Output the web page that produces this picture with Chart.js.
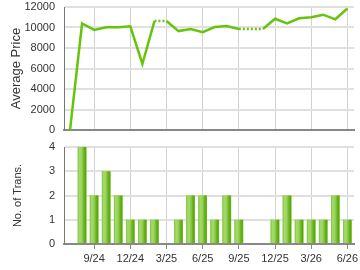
<!DOCTYPE html>
<html>
<head>
<meta charset="utf-8">
<script src="https://cdn.jsdelivr.net/npm/chart.js@4.4.1/dist/chart.umd.min.js"></script>
<style>
  html, body { margin: 0; padding: 0; background: #fff; }
  #wrap { position: relative; width: 360px; height: 270px; overflow: hidden; }
  .box { position: absolute; left: 0; width: 360px; }
  #top-box { top: 0; height: 138px; }
  #bottom-box { top: 138px; height: 132px; }
</style>
</head>
<body>
<div id="wrap">
  <div class="box" id="top-box"><canvas id="price-chart"></canvas></div>
  <div class="box" id="bottom-box"><canvas id="trans-chart"></canvas></div>
</div>
<script>
const months = [
  '7/24', '8/24', '9/24', '10/24', '11/24', '12/24',
  '1/25', '2/25', '3/25', '4/25', '5/25', '6/25',
  '7/25', '8/25', '9/25', '10/25', '11/25', '12/25',
  '1/26', '2/26', '3/26', '4/26', '5/26', '6/26',
];
const averagePrice = [
  0, 10400, 9760, 10020, 10020, 10110,
  6440, 10630, 10630, 9650, 9850, 9550,
  10050, 10150, 9850, 9850, 9850, 10850,
  10400, 10900, 11000, 11250, 10800, 11850,
];
// months with no sale: price carried over, drawn dotted
const carriedMonths = ['3/25', '10/25', '11/25'];
const transactions = [
  0, 4, 2, 3, 2, 1,
  1, 1, 0, 1, 2, 2,
  1, 2, 1, 0, 0, 1,
  2, 1, 1, 1, 2, 1,
];
const quarterLabels = ['9/24', '12/24', '3/25', '6/25', '9/25', '12/25', '3/26', '6/26'];
const priceTicks = [0, 2000, 4000, 6000, 8000, 10000, 12000];
const transTicks = [0, 1, 2, 3, 4];

const quarterIndex = quarterLabels.map((label) => months.indexOf(label));
const xMin = -0.5;
const xMax = months.length - 0.45;

Chart.defaults.font.family = 'Arial, "Liberation Sans", sans-serif';
Chart.defaults.color = '#333';

const barShade = {
  id: 'barShade',
  afterDatasetsDraw(chart) {
    const ctx = chart.ctx;
    chart.getDatasetMeta(0).data.forEach((bar) => {
      const height = bar.base - bar.y;
      if (height <= 0) return;
      const left = bar.x - bar.width / 2;
      const grad = ctx.createLinearGradient(left, 0, left + bar.width, 0);
      grad.addColorStop(0, '#7dc23c');
      grad.addColorStop(0.2, '#a6da6c');
      grad.addColorStop(0.45, '#9ad35e');
      grad.addColorStop(0.75, '#66b21a');
      grad.addColorStop(0.9, '#5aa80c');
      grad.addColorStop(1, '#78bf33');
      ctx.save();
      ctx.fillStyle = grad;
      ctx.fillRect(left, bar.y, bar.width, height);
      ctx.restore();
    });
  },
};

function noEdgePadding(scale) {
  scale.width = 64;
  scale.paddingTop = 0;
  scale.paddingBottom = 0;
}

new Chart(document.getElementById('price-chart'), {
  type: 'line',
  data: {
    datasets: [
      {
        data: averagePrice.map((value, i) => ({ x: i, y: value })),
        borderColor: '#66c40c',
        borderWidth: 2.5,
        pointRadius: 0,
        tension: 0,
        segment: {
          borderDash: (ctx) =>
            carriedMonths.includes(months[ctx.p1DataIndex]) ? [2, 2] : undefined,
        },
      },
    ],
  },
  options: {
    responsive: true,
    maintainAspectRatio: false,
    animation: false,
    layout: { padding: { top: 7, right: 6, left: 0, bottom: 8 } },
    plugins: { legend: { display: false }, tooltip: { enabled: false } },
    scales: {
      x: {
        type: 'linear',
        min: xMin,
        max: xMax,
        offset: false,
        afterBuildTicks: (scale) => {
          scale.ticks = quarterIndex.map((v) => ({ value: v }));
        },
        ticks: { display: false },
        grid: { color: '#d2d2d2', lineWidth: 1, tickLength: 0 },
        border: { color: '#888', width: 2 },
        afterFit: (scale) => {
          scale.height = 0;
          scale.paddingLeft = 0;
          scale.paddingRight = 0;
        },
      },
      y: {
        min: 0,
        max: 12000,
        afterBuildTicks: (scale) => {
          scale.ticks = priceTicks.map((v) => ({ value: v }));
        },
        ticks: { padding: 9, font: { size: 11 }, callback: (v) => String(v) },
        grid: { color: '#e0e0e0', lineWidth: 2, tickLength: 0 },
        border: { color: '#777', width: 1 },
        title: {
          display: true,
          text: 'Average Price',
          font: { size: 13 },
          color: '#333',
          padding: { top: 9, bottom: 0 },
        },
        afterFit: noEdgePadding,
      },
    },
  },
});

new Chart(document.getElementById('trans-chart'), {
  type: 'bar',
  data: {
    datasets: [
      {
        data: transactions.map((value, i) => ({ x: i, y: value })),
        backgroundColor: '#8ccf50',
        barPercentage: 0.72,
        categoryPercentage: 1,
      },
    ],
  },
  options: {
    responsive: true,
    maintainAspectRatio: false,
    animation: false,
    layout: { padding: { top: 9, right: 6, left: 0, bottom: 0 } },
    plugins: { legend: { display: false }, tooltip: { enabled: false } },
    scales: {
      x: {
        type: 'linear',
        min: xMin,
        max: xMax,
        offset: false,
        afterBuildTicks: (scale) => {
          scale.ticks = quarterIndex.map((v) => ({ value: v }));
        },
        ticks: {
          font: { size: 11 },
          padding: 3,
          maxRotation: 0,
          autoSkip: false,
          callback: (value) => months[value],
        },
        grid: { offset: false, color: '#d2d2d2', lineWidth: 1, tickLength: 5, tickColor: '#888' },
        border: { color: '#888', width: 2 },
        afterFit: (scale) => {
          scale.height = 26;
          scale.paddingLeft = 0;
          scale.paddingRight = 0;
        },
      },
      y: {
        min: 0,
        max: 4,
        afterBuildTicks: (scale) => {
          scale.ticks = transTicks.map((v) => ({ value: v }));
        },
        ticks: { padding: 9, font: { size: 11 } },
        grid: { color: '#e0e0e0', lineWidth: 2, tickLength: 0 },
        border: { color: '#777', width: 1 },
        title: {
          display: true,
          text: 'No. of Trans.',
          font: { size: 11 },
          color: '#333',
          padding: { top: 11, bottom: 0 },
        },
        afterFit: noEdgePadding,
      },
    },
  },
  plugins: [barShade],
});
</script>
</body>
</html>
